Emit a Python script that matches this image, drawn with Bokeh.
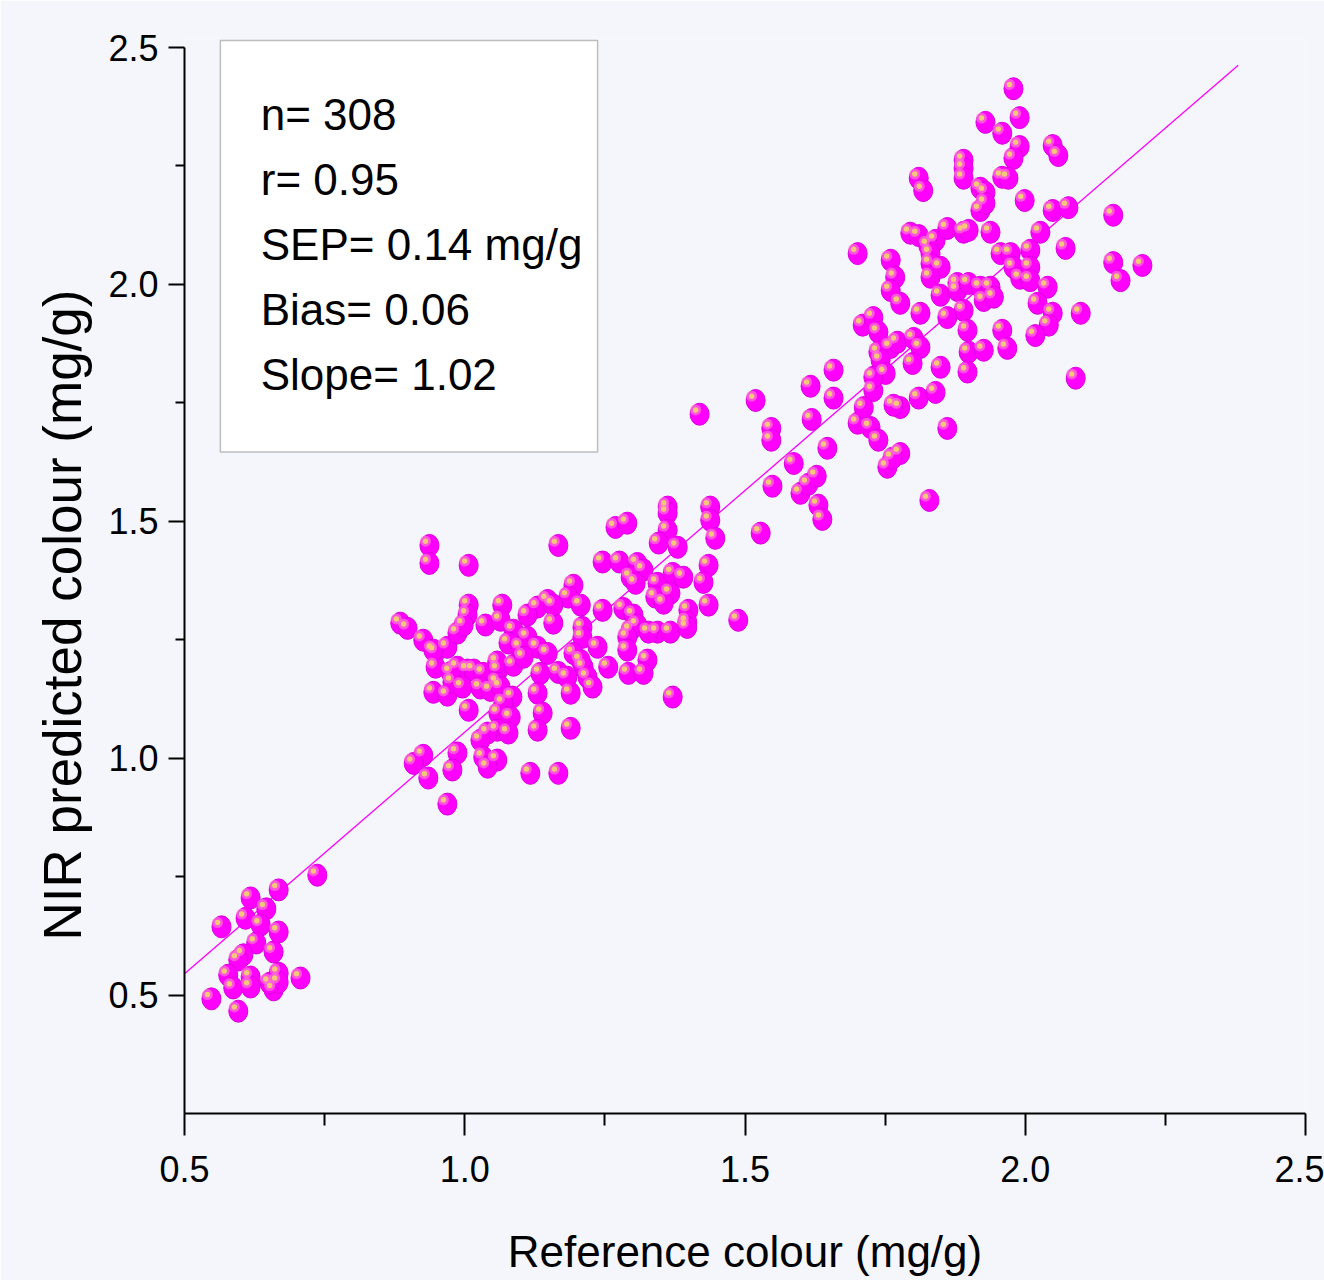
from bokeh.plotting import figure
from bokeh.models import FixedTicker, NumeralTickFormatter, BoxAnnotation, Label, Title
from bokeh.embed import file_html
from bokeh.resources import INLINE

# ---- data (reference colour, NIR predicted colour), mg/g ----
ref_low = [0.737, 0.668, 0.618, 0.646, 0.609, 0.566, 0.636, 0.668, 0.628, 0.659, 0.605, 0.596,
           0.578, 0.618, 0.668, 0.707, 0.587, 0.618, 0.659, 0.668, 0.548, 0.596, 0.652]
nir_low = [0.753, 0.722, 0.705, 0.682, 0.662, 0.644, 0.648, 0.633, 0.610, 0.591, 0.585, 0.574,
           0.542, 0.538, 0.546, 0.536, 0.515, 0.517, 0.511, 0.527, 0.492, 0.466, 0.525]

ref_mid = [0.937, 0.937, 1.007, 1.167, 1.269, 1.290, 1.362, 1.362, 1.362, 1.438, 1.438, 1.528,
           1.447, 1.346, 1.380, 1.246, 1.276, 1.308, 1.319, 1.296, 1.305, 1.344, 1.371, 1.390,
           1.435, 1.426, 1.340, 1.367, 1.355, 1.435, 1.488, 1.399, 1.397, 1.194, 1.185, 1.207,
           1.148, 1.130, 1.112, 1.067, 1.007, 1.005, 1.037, 0.885, 0.898, 0.926, 0.948, 0.969,
           0.987, 0.998, 1.064, 1.087, 1.078, 1.112, 1.130, 1.148, 1.158, 1.210, 1.246, 1.283,
           1.301, 1.308, 1.296, 1.344, 1.367, 1.397, 1.210, 1.237, 1.290, 1.290, 1.326, 1.292,
           1.319, 1.256, 1.212, 1.219, 1.228, 1.167, 1.189, 1.135, 1.130, 1.139, 1.130, 1.189,
           1.371, 0.948, 0.944, 0.969, 0.987, 0.978, 1.005, 1.016, 1.033, 1.060, 1.058, 1.028,
           1.046, 1.064, 1.085, 1.069, 1.007, 1.060, 1.082, 1.058, 1.078, 1.041, 1.028, 1.033,
           1.058, 0.987, 0.978, 0.926, 0.909, 0.935, 1.117, 1.167, 0.969,
           0.944, 1.099, 1.158, 0.975, 1.058, 1.087, 1.105, 1.183, 1.194, 0.996, 1.041,
           1.207, 1.328]
nir_mid = [1.449, 1.411, 1.407, 1.449, 1.487, 1.496, 1.530, 1.517, 1.481, 1.530, 1.502, 1.475,
           1.464, 1.454, 1.445, 1.414, 1.414, 1.411, 1.397, 1.382, 1.369, 1.369, 1.390, 1.382,
           1.407, 1.371, 1.340, 1.348, 1.327, 1.323, 1.291, 1.312, 1.287, 1.365, 1.340, 1.323,
           1.333, 1.319, 1.302, 1.323, 1.323, 1.302, 1.281, 1.285, 1.274, 1.249, 1.224, 1.234,
           1.264, 1.281, 1.291, 1.270, 1.243, 1.255, 1.234, 1.221, 1.285, 1.276, 1.312, 1.316,
           1.302, 1.281, 1.270, 1.266, 1.266, 1.276, 1.255, 1.234, 1.255, 1.228, 1.207, 1.179,
           1.179, 1.192, 1.192, 1.171, 1.150, 1.181, 1.137, 1.179, 1.137, 1.095, 1.059, 1.063,
           1.129, 1.192, 1.139, 1.133, 1.192, 1.160, 1.186, 1.186, 1.179, 1.186, 1.160, 1.148,
           1.143, 1.150, 1.129, 1.116, 1.101, 1.095, 1.086, 1.059, 1.053, 1.053, 1.038, 1.002,
           0.996, 1.011, 0.975, 1.006, 0.989, 0.958, 0.968, 0.968, 0.903,
           1.228, 1.234, 1.323, 1.181, 1.203, 1.196, 1.213, 1.171, 1.221, 1.150, 0.981,
           1.206, 1.266]

ref_upmid = [1.419, 1.519, 1.547, 1.547, 1.549, 1.587, 1.599, 1.613, 1.619, 1.617, 1.628, 1.631,
             1.638, 1.647, 1.829, 1.754]
nir_upmid = [1.726, 1.755, 1.696, 1.671, 1.574, 1.622, 1.559, 1.578, 1.715, 1.785, 1.595, 1.534,
             1.504, 1.654, 1.544, 1.614]

ref_high = [1.979, 1.990, 1.929, 1.959, 1.990, 1.979, 2.049, 2.059, 1.890, 1.890, 1.890, 1.810,
            1.818, 1.959, 1.970, 1.920, 1.929, 1.920, 1.929, 1.999, 2.157, 2.049, 2.077, 1.938,
            2.027, 1.795, 1.810, 1.840, 1.861, 1.890, 1.899, 1.701, 1.760, 1.827, 1.831, 1.956,
            1.974, 2.009, 2.072, 2.157, 2.209, 2.170, 1.768, 1.760, 1.831, 1.849, 1.831, 1.979,
            1.991, 2.009, 2.009, 2.040, 1.849, 1.879, 1.879, 1.899, 1.920, 1.938, 1.926, 1.944,
            1.890, 1.777, 1.813, 1.861, 1.897, 1.959, 2.049, 2.022, 2.099, 2.042, 2.018, 1.710,
            1.729, 1.738, 1.760, 1.772, 1.738, 1.742, 1.751, 1.729, 1.729, 1.801, 1.813, 1.799,
            1.849, 1.899, 1.897, 1.926, 1.968, 2.090, 1.658, 1.658, 1.701, 1.712, 1.724, 1.738,
            1.777, 1.765, 1.810, 1.840, 1.861, 1.777, 1.763]
nir_high = [2.413, 2.352, 2.342, 2.319, 2.291, 2.266, 2.293, 2.272, 2.262, 2.245, 2.224, 2.224,
            2.198, 2.226, 2.224, 2.203, 2.194, 2.156, 2.171, 2.177, 2.146, 2.156, 2.162, 2.110,
            2.110, 2.108, 2.103, 2.093, 2.118, 2.110, 2.114, 2.065, 2.051, 2.082, 2.065, 2.065,
            2.065, 2.072, 2.076, 2.046, 2.040, 2.008, 2.015, 1.987, 2.044, 2.036, 2.015, 2.036,
            2.013, 2.036, 2.008, 1.994, 1.977, 2.002, 1.987, 2.002, 1.994, 1.994, 1.966, 1.973,
            1.945, 1.960, 1.939, 1.930, 1.903, 1.903, 1.939, 1.960, 1.939, 1.914, 1.892, 1.914,
            1.930, 1.899, 1.867, 1.878, 1.857, 1.840, 1.812, 1.776, 1.804, 1.886, 1.867, 1.833,
            1.825, 1.857, 1.815, 1.861, 1.865, 1.802, 1.819, 1.760, 1.707, 1.740, 1.698, 1.671,
            1.740, 1.745, 1.760, 1.772, 1.696, 1.643, 1.633]

# regression line
fit_slope = 1.02
fit_intercept = 0.035
fit_x = [0.5, 2.38]

stats_lines = ["n= 308", "r= 0.95", "SEP= 0.14 mg/g", "Bias= 0.06", "Slope= 1.02"]

x_title = "Reference colour (mg/g)"
y_title = "NIR predicted colour (mg/g)"

x_major = [0.5, 1.0, 1.5, 2.0, 2.5]
x_minor = [0.75, 1.25, 1.75, 2.25]
y_major = [0.5, 1.0, 1.5, 2.0, 2.5]
y_minor = [0.75, 1.25, 1.75, 2.25]

# ---- styling ----
BG = "#f5f6fb"
MAG = "#ff00ff"
FONT = "'Liberation Sans', Arial, sans-serif"

xs = ref_low + ref_mid + ref_upmid + ref_high
ys = nir_low + nir_mid + nir_upmid + nir_high

p = figure(width=1324, height=1280, x_range=(0.5, 2.5), y_range=(0.25, 2.519),
           output_backend="svg", toolbar_location=None,
           min_border_left=184, min_border_right=19, min_border_top=38, min_border_bottom=167)
p.background_fill_color = BG
p.border_fill_color = BG
p.outline_line_color = None
p.grid.visible = False

# regression line
p.line(fit_x, [fit_intercept + fit_slope * v for v in fit_x], line_color=MAG, line_width=1.3)

# spheres
p.ellipse(xs, ys, width=19, height=22, width_units="screen", height_units="screen",
          fill_color=MAG, line_color="#dc00e0", line_width=1)
hx = [v - 0.0071 for v in xs]
hy = [v + 0.0090 for v in ys]
p.scatter(hx, hy, size=11, fill_color="#ff78d0", fill_alpha=0.7, line_color=None)
p.scatter(hx, hy, size=5.5, fill_color="#f4c878", line_color=None)

# axes
for ax, major, minor in ((p.xaxis, x_major, x_minor), (p.yaxis, y_major, y_minor)):
    ax.ticker = FixedTicker(ticks=major, minor_ticks=minor)
    ax.formatter = NumeralTickFormatter(format="0.0")
    ax.axis_line_color = "black"
    ax.axis_line_width = 2
    ax.major_tick_line_color = "black"
    ax.major_tick_line_width = 2
    ax.minor_tick_line_color = "black"
    ax.minor_tick_line_width = 2
    ax.major_tick_in = 0
    ax.minor_tick_in = 0
    ax.major_label_text_color = "black"
    ax.major_label_text_font = FONT
    ax.major_label_text_font_size = "36px"
    ax.axis_label_text_color = "black"
    ax.axis_label_text_font = FONT
    ax.axis_label_text_font_style = "normal"

p.yaxis.bounds = (0.25, 2.5)

p.xaxis.major_tick_out = 22
p.xaxis.minor_tick_out = 12
p.xaxis.major_label_standoff = 20
p.xaxis.axis_label = x_title
p.xaxis.axis_label_text_font_size = "44px"
p.xaxis.axis_label_standoff = 42

p.yaxis.major_tick_out = 16
p.yaxis.minor_tick_out = 9
p.yaxis.major_label_standoff = 10

# y-axis title as a side title, placed like the original (a little below the frame centre)
p.add_layout(Title(text=y_title, align="left", offset=173, standoff=28,
                   text_font=FONT, text_font_size="53px", text_font_style="normal",
                   text_color="black"), "left")

# stats box
p.add_layout(BoxAnnotation(left=0.564, right=1.237, top=2.515, bottom=1.646,
                           fill_color="white", fill_alpha=1.0,
                           line_color="#333333", line_width=1.5))
for i, t in enumerate(stats_lines):
    p.add_layout(Label(x=0.636, y=2.3576 - i * 0.1371, text=t, text_font=FONT,
                       text_font_size="44px", text_color="black", text_baseline="middle"))

open("out.html", "w").write(file_html(p, INLINE))
